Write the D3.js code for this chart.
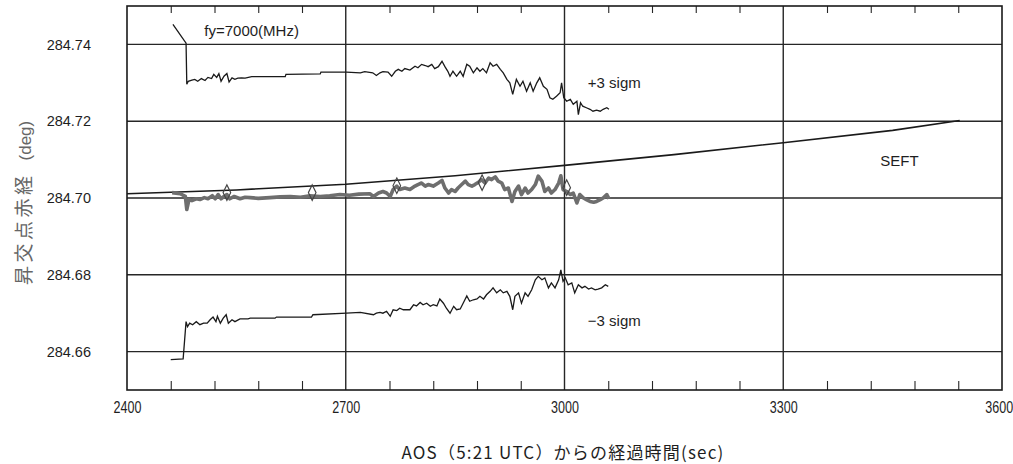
<!DOCTYPE html>
<html>
<head>
<meta charset="utf-8">
<script src="https://cdn.jsdelivr.net/npm/d3@7"></script>
<style>
  html, body { margin: 0; padding: 0; background: #fff; }
  svg { display: block; }
  text { font-family: "Liberation Sans", Arial, sans-serif; fill: #1e1e1e; }
</style>
</head>
<body>
<svg id="chart" width="1013" height="464"></svg>
<script>
// ---- axis ticks ----
const xTicks = [2400, 2700, 3000, 3300, 3600];
const yTicks = [284.66, 284.68, 284.70, 284.72, 284.74];

// ---- +3 sigma bound (elapsed sec, deg) ----
const plusT = [2463,2481,2482,2484,2489,2493,2497,2502,2507,2511,2516,2519,2523,2526,2529,2533,2537,2540,2544,2548,2552,2557,2562,2571,2617,2618,2665,2666,2701,2720,2726,2737,2742,2747,2751,2758,2763,2768,2772,2777,2781,2788,2795,2799,2804,2809,2813,2818,2822,2827,2832,2836,2840,2843,2847,2852,2857,2861,2866,2870,2875,2880,2884,2888,2893,2898,2902,2907,2912,2916,2921,2925,2929,2934,2939,2943,2948,2953,2957,2962,2966,2971,2976,2980,2984,2989,2994,2996,2999,3003,3008,3012,3017,3019,3022,3025,3030,3035,3039,3044,3049,3053,3058,3061];
const plusV = [284.7452,284.7403,284.7296,284.7304,284.7307,284.7309,284.7304,284.7311,284.7306,284.7314,284.7311,284.7322,284.7314,284.7324,284.7304,284.7317,284.7324,284.7302,284.7313,284.7309,284.7312,284.7313,284.7312,284.7316,284.7316,284.7322,284.7323,284.7328,284.7328,284.7326,284.7329,284.7326,284.7319,284.7326,284.7329,284.7328,284.7317,284.7330,284.7335,284.7330,284.7337,284.7333,284.7343,284.7339,284.7348,284.7345,284.7342,284.7348,284.7337,284.7342,284.7356,284.7342,284.7330,284.7317,284.7330,284.7317,284.7330,284.7317,284.7348,284.7343,284.7326,284.7339,284.7330,284.7337,284.7326,284.7352,284.7343,284.7348,284.7335,284.7326,284.7309,284.7300,284.7270,284.7309,284.7291,284.7304,284.7278,284.7300,284.7278,284.7300,284.7313,284.7291,284.7283,284.7261,284.7257,284.7265,284.7274,284.7300,284.7261,284.7252,284.7257,284.7244,284.7252,284.7217,284.7248,284.7239,284.7235,284.7231,284.7226,284.7229,284.7226,284.7231,284.7235,284.7231];

// ---- -3 sigma bound ----
const minusT = [2460,2477,2481,2483,2486,2490,2495,2500,2505,2510,2514,2518,2522,2524,2528,2532,2536,2539,2544,2548,2555,2566,2569,2603,2605,2653,2655,2701,2720,2738,2742,2747,2751,2756,2761,2765,2770,2774,2779,2784,2788,2793,2797,2802,2806,2811,2816,2820,2825,2829,2834,2838,2843,2848,2852,2857,2861,2866,2870,2875,2880,2884,2889,2893,2898,2902,2907,2912,2916,2921,2925,2929,2932,2937,2941,2946,2950,2955,2960,2964,2969,2973,2978,2982,2987,2992,2995,2998,3001,3005,3010,3014,3019,3024,3028,3033,3037,3042,3046,3051,3056,3060];
const minusV = [284.6579,284.6581,284.6678,284.6665,284.6674,284.6670,284.6678,284.6670,284.6674,284.6674,284.6683,284.6690,284.6678,284.6692,284.6674,284.6687,284.6696,284.6674,284.6683,284.6678,284.6685,284.6685,284.6687,284.6687,284.6690,284.6690,284.6696,284.6700,284.6702,284.6696,284.6700,284.6702,284.6700,284.6705,284.6692,284.6709,284.6707,284.6713,284.6709,284.6709,284.6709,284.6722,284.6719,284.6728,284.6722,284.6726,284.6718,284.6722,284.6719,284.6737,284.6726,284.6713,284.6700,284.6718,284.6709,284.6711,284.6726,284.6745,284.6731,284.6735,284.6737,284.6744,284.6737,284.6748,284.6757,284.6766,284.6753,284.6761,284.6753,284.6757,284.6744,284.6709,284.6744,284.6753,284.6726,284.6753,284.6744,284.6761,284.6787,284.6796,284.6787,284.6792,284.6766,284.6779,284.6766,284.6787,284.6813,284.6783,284.6792,284.6774,284.6779,284.6753,284.6774,284.6766,284.6770,284.6763,284.6766,284.6761,284.6763,284.6766,284.6774,284.6770];

// ---- orbit determination estimate ----
const estT = [2462,2473,2480,2482,2485,2489,2495,2500,2506,2511,2517,2521,2525,2529,2533,2537,2541,2547,2555,2562,2569,2580,2596,2610,2624,2638,2651,2665,2678,2692,2705,2718,2733,2738,2745,2751,2756,2761,2765,2770,2774,2781,2788,2795,2799,2804,2809,2813,2820,2827,2832,2836,2841,2845,2850,2854,2859,2864,2868,2873,2877,2882,2886,2891,2896,2900,2905,2909,2914,2918,2923,2928,2932,2937,2941,2946,2950,2955,2960,2964,2969,2973,2978,2982,2987,2992,2995,2998,3003,3008,3012,3017,3021,3026,3030,3035,3040,3044,3049,3053,3058,3061];
const estV = [284.7014,284.7011,284.7004,284.6970,284.6996,284.6993,284.6998,284.6996,284.7001,284.6998,284.7006,284.6998,284.7009,284.6998,284.7004,284.7009,284.6998,284.7004,284.6998,284.7002,284.7001,284.6999,284.7001,284.7003,284.7004,284.7002,284.7006,284.7004,284.7006,284.7009,284.7007,284.7010,284.7011,284.7004,284.7013,284.7017,284.7013,284.7004,284.7022,284.7031,284.7022,284.7026,284.7022,284.7031,284.7035,284.7039,284.7031,284.7035,284.7031,284.7039,284.7046,284.7026,284.7013,284.7022,284.7017,284.7026,284.7035,284.7044,284.7035,284.7031,284.7035,284.7041,284.7048,284.7039,284.7052,284.7048,284.7055,284.7044,284.7039,284.7022,284.7026,284.6991,284.7017,284.7031,284.7009,284.7026,284.7013,284.7022,284.7035,284.7057,284.7044,284.7017,284.7026,284.7013,284.7022,284.7039,284.7058,284.7022,284.7017,284.7009,284.7013,284.6987,284.7009,284.7000,284.6996,284.6991,284.6989,284.6991,284.6996,284.7000,284.7009,284.6998];

// ---- smoothed estimate markers ----
const markT = [2537, 2654, 2770, 2887, 3003];
const markV = [284.7014, 284.7014, 284.7032, 284.7040, 284.7027];

// ---- SEFT prediction ----
const seftT = [2400, 2550, 2700, 2850, 3000, 3150, 3300, 3450, 3542];
const seftV = [284.7011, 284.7021, 284.7036, 284.7058, 284.7085, 284.7113, 284.7144, 284.7176, 284.7202];

const W = 1013, H = 464;
const margin = { top: 6, right: 11, bottom: 74, left: 127 };
const iw = W - margin.left - margin.right;
const ih = H - margin.top - margin.bottom;

const svg = d3.select("#chart");
const g = svg.append("g").attr("transform", `translate(${margin.left},${margin.top})`);

const x = d3.scaleLinear().domain([2400, 3600]).range([0, iw]);
const y = d3.scaleLinear().domain([284.65, 284.75]).range([ih, 0]);

const pts = (ts, vs) => ts.map((t, i) => [t, vs[i]]).filter(d => d[1] !== undefined);
const line = d3.line().x(d => x(d[0])).y(d => y(d[1]));

// grid lines
g.append("g").selectAll("line").data(yTicks).join("line")
  .attr("x1", 0).attr("x2", iw)
  .attr("y1", d => y(d)).attr("y2", d => y(d))
  .attr("stroke", "#262626").attr("stroke-width", 1.4);
g.append("g").selectAll("line").data(xTicks.slice(1, -1)).join("line")
  .attr("y1", 0).attr("y2", ih)
  .attr("x1", d => x(d)).attr("x2", d => x(d))
  .attr("stroke", "#262626").attr("stroke-width", 1.4);

// minor ticks on top and bottom edges
const minor = d3.range(2460, 3600, 60).filter(t => (t - 2400) % 300 !== 0);
const tb = g.append("g").attr("transform", `translate(0,${ih})`)
  .call(d3.axisBottom(x).tickValues(minor).tickSize(-9).tickFormat(""));
const tt = g.append("g")
  .call(d3.axisTop(x).tickValues(minor).tickSize(-7).tickFormat(""));
[tb, tt].forEach(a => {
  a.select(".domain").remove();
  a.selectAll("line").attr("stroke", "#262626").attr("stroke-width", 1.1);
});

// x axis labels (condensed digits)
const xa = g.append("g").attr("transform", `translate(0,${ih})`)
  .call(d3.axisBottom(x).tickValues(xTicks).tickSize(0).tickPadding(11).tickFormat(d3.format("d")));
xa.select(".domain").remove();
xa.selectAll("text")
  .style("font-size", "16.5px")
  .attr("transform", "scale(0.76,1)");
xa.selectAll(".tick").filter(d => d === 3600).select("text")
  .attr("text-anchor", "end").attr("x", 14);

// y axis labels
const ya = g.append("g")
  .call(d3.axisLeft(y).tickValues(yTicks).tickSize(0).tickPadding(36).tickFormat(d3.format(".2f")));
ya.select(".domain").remove();
ya.selectAll("text").style("font-size", "14.5px");

// data lines
g.append("path").datum(pts(seftT, seftV)).attr("d", line)
  .attr("fill", "none").attr("stroke", "#1a1a1a").attr("stroke-width", 1.6);
g.append("path").datum(pts(estT, estV)).attr("d", line)
  .attr("fill", "none").attr("stroke", "#6e6e6e").attr("stroke-width", 3.6)
  .attr("stroke-linejoin", "round");
g.append("g").selectAll("path").data(pts(markT, markV)).join("path")
  .attr("d", d3.symbol().type(d3.symbolDiamond).size(70))
  .attr("transform", d => `translate(${x(d[0])},${y(d[1])}) scale(0.85,1)`)
  .attr("fill", "none").attr("stroke", "#444").attr("stroke-width", 1.3);
g.append("path").datum(pts(plusT, plusV)).attr("d", line)
  .attr("fill", "none").attr("stroke", "#1a1a1a").attr("stroke-width", 1.3);
g.append("path").datum(pts(minusT, minusV)).attr("d", line)
  .attr("fill", "none").attr("stroke", "#1a1a1a").attr("stroke-width", 1.3);

// frame
g.append("rect").attr("width", iw).attr("height", ih)
  .attr("fill", "none").attr("stroke", "#1a1a1a").attr("stroke-width", 1.6);

// annotations
const notes = [
  { t: 2506, v: 284.7422, s: "fy=7000(MHz)" },
  { t: 3032, v: 284.7286, s: "+3 sigm" },
  { t: 3433, v: 284.7083, s: "SEFT" },
  { t: 3032, v: 284.6667, s: "\u22123 sigm" }
];
g.append("g").selectAll("text").data(notes).join("text")
  .attr("x", d => x(d.t)).attr("y", d => y(d.v))
  .style("font-size", "15px").text(d => d.s);

// axis titles
svg.append("text")
  .attr("x", 563).attr("y", 459)
  .attr("text-anchor", "middle")
  .style("font-family", "'Noto Sans CJK JP','Liberation Sans',sans-serif")
  .style("font-size", "17px")
  .style("letter-spacing", "1.2px")
  .text("AOS（5:21 UTC）からの経過時間(sec)");

const yt = svg.append("text")
  .attr("transform", "translate(31,285) rotate(-90)")
  .attr("text-anchor", "start")
  .style("fill", "#666");
yt.append("tspan")
  .style("font-family", "'Noto Sans CJK JP',sans-serif")
  .style("font-size", "19px").style("letter-spacing", "3.5px")
  .text("昇交点赤経");
yt.append("tspan")
  .attr("dx", 12)
  .style("font-size", "17px")
  .text("(deg)");
</script>
</body>
</html>
